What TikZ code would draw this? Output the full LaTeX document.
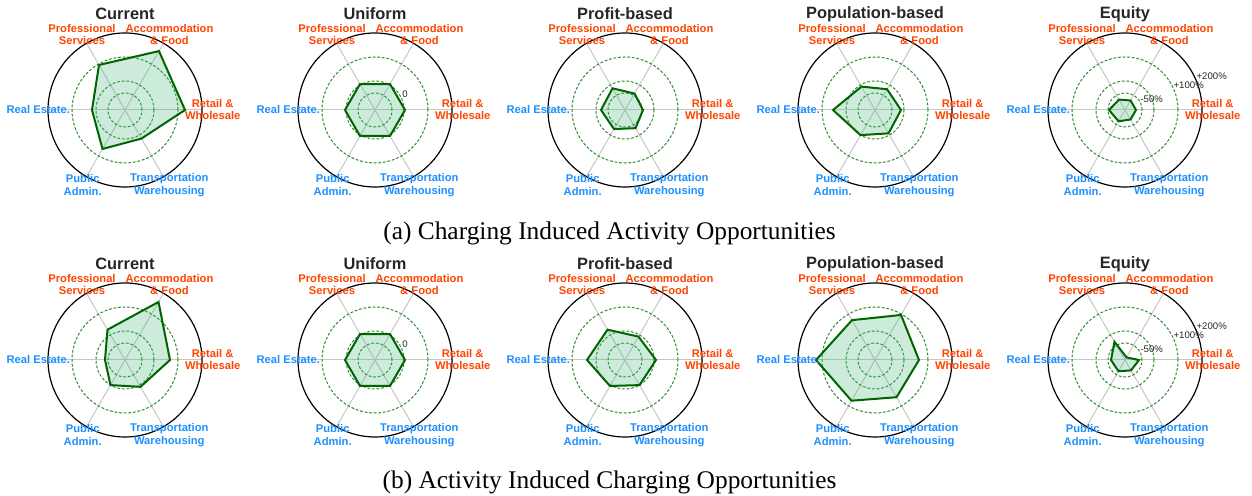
\documentclass[tikz,border=0pt]{standalone}
\usepackage{fontspec}
\setmainfont{Liberation Serif}
\setsansfont{Liberation Sans}

\definecolor{catorange}{HTML}{FF4500}
\definecolor{catblue}{HTML}{1E90FF}
\definecolor{linegreen}{HTML}{006400}
\definecolor{areagreen}{HTML}{3CB371}
\definecolor{ringgreen}{HTML}{2E8B2E}

\tikzset{
  spoke/.style={draw=black!22, line width=0.5pt},
  ring/.style={draw=ringgreen, line width=0.5pt, dash pattern=on 1.4pt off 0.9pt},
  rim/.style={draw=black, line width=0.6pt},
  share/.style={draw=linegreen, line width=1pt, fill=areagreen, fill opacity=0.26, line join=miter},
  charttitle/.style={font=\sffamily\bfseries\fontsize{8.2}{9}\selectfont, text=black!85, inner sep=0pt},
  cat/.style={font=\sffamily\bfseries\fontsize{5.6}{6.2}\selectfont, align=center, inner sep=0pt},
  work/.style={cat, text=catorange},
  home/.style={cat, text=catblue},
  ticklab/.style={font=\sffamily\fontsize{4.8}{5}\selectfont, text=black!85, inner sep=0pt},
  caption/.style={font=\fontsize{12.7}{14}\selectfont, inner sep=0pt}
}

% one radar panel: name, centre, title, radii at 0,60,...,300 deg
\newcommand{\radar}[4]{%
  \begin{scope}[shift={(#2)}]
    \foreach \a in {0,60,...,300}
      \draw[spoke] (0,0) -- (\a:77);
    \foreach \r in {17,29,53}
      \draw[ring] (0,0) circle (\r);
    \draw[rim] (0,0) circle (77);
    \foreach \r [count=\i from 0] in {#4}
      \coordinate (#1-v\i) at ({\i*60}:\r);
    \draw[share] (#1-v0) -- (#1-v1) -- (#1-v2) -- (#1-v3) -- (#1-v4) -- (#1-v5) -- cycle;
    \node[charttitle] (#1-title) at (0,96) {#3};
    \node[work] (#1-pro) at (-43,75.5) {Professional\\Services};
    \node[work] (#1-acc) at (44.5,75.5) {Accommodation\\\& Food};
    \node[work] (#1-ret) at (87.7,0.5) {Retail \&\\Wholesale};
    \node[home] (#1-est) at (-86.7,0) {Real Estate.};
    \node[home] (#1-pub) at (-42.3,-75) {Public\\Admin.};
    \node[home] (#1-tra) at (44.3,-75) {Transportation\\Warehousing};
  \end{scope}}

\begin{document}
\begin{tikzpicture}[x=0.5pt, y=0.5pt]
    \useasboundingbox (0,0) rectangle (1252,496);

    % (a) charging induced activity opportunities
    \radar{a1}{125,386}{Current}{60,68,52,33,45,33}
    \radar{a2}{375,386}{Uniform}{30,30,30,30,30,30}
    \radar{a3}{625,386}{Profit-based}{18,19,25,24,22,21}
    \radar{a4}{875,386}{Population-based}{26,24,27,42,29,27}
    \radar{a5}{1125,386}{Equity}{11,11,12,16,13,11}

    \node[ticklab] (a2-zero) at (405,402) {0};
    \node[ticklab] (a5-low) at (1151.7,397) {-50\%};
    \node[ticklab] (a5-mid) at (1188.7,411) {+100\%};
    \node[ticklab] (a5-top) at (1211.7,420) {+200\%};

    \node[caption] (cap-a) at (609.5,263) {(a) Charging Induced Activity Opportunities};

    % (b) activity induced charging opportunities
    \radar{b1}{125,136}{Current}{45,67,35,20,29,31}
    \radar{b2}{375,136}{Uniform}{30,30,30,30,30,30}
    \radar{b3}{625,136}{Profit-based}{31,27,35,38,30,29}
    \radar{b4}{875,136}{Population-based}{44,52,46,59,47,43}
    \radar{b5}{1125,136}{Equity}{14,3,21,14,13,12}

    \node[ticklab] (b2-zero) at (405,152) {0};
    \node[ticklab] (b5-low) at (1151.7,147) {-50\%};
    \node[ticklab] (b5-mid) at (1188.7,161) {+100\%};
    \node[ticklab] (b5-top) at (1211.7,170) {+200\%};

    \node[caption] (cap-b) at (609.5,14) {(b) Activity Induced Charging Opportunities};

\end{tikzpicture}
\end{document}
